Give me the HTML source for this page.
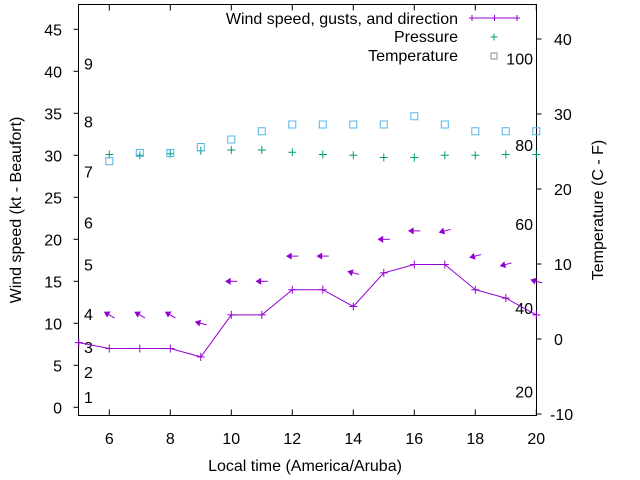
<!DOCTYPE html>
<html><head><meta charset="utf-8"><style>
body{margin:0;background:#fff}
svg{display:block;font-family:"Liberation Sans",sans-serif;font-size:16px}
</style></head><body>
<svg id="chart" width="640" height="480" viewBox="0 0 640 480" xmlns="http://www.w3.org/2000/svg">
<g id="grid"></g>
<g id="marks"></g>
</svg>
<script>
const hours = [5,6,7,8,9,10,11,12,13,14,15,16,17,18,19,20];
const windSpeed = [7.7,7,7,7,6,11,11,14,14,12,16,17,17,14,13,11];
const arrowHours = [6,7,8,9,10,11,12,13,14,15,16,17,18,19,20];
const gustSpeed = [11,11,11,10,15,15,18,18,16,20,21,21,18,17,15];
const arrowAngle = [150,150,150,165,180,180,180,180,165,180,180,195,195,195,165];
const tempHours = [6,7,8,9,10,11,12,13,14,15,16,17,18,19,20];
const temperature = [23.7,24.8,24.8,25.6,26.6,27.7,28.6,28.6,28.6,28.6,29.7,28.6,27.7,27.7,27.7];
const pressureHours = [6,7,8,9,10,11,12,13,14,15,16,17,18,19,20];
const pressure = [24.6,24.5,24.7,25.1,25.2,25.2,24.9,24.6,24.5,24.2,24.2,24.5,24.5,24.6,24.6];
const xTicks = [6,8,10,12,14,16,18,20];
const yTicks = [0,5,10,15,20,25,30,35,40,45];
const y2Ticks = [-10,0,10,20,30,40];
const beaufortLabels = [["1",1.2],["2",4.2],["3",7.2],["4",11.1],["5",17],["6",22],["7",28.1],["8",34],["9",40.9]];
const rightLabels = [["100",41.5],["80",31.2],["60",21.8],["40",11.8],["20",1.9]];

const L=78.5,R=536.5,T=4.5,B=415.5;
const X=v=>78.8+(v-5)*30.5;
const Y=v=>407.3-v*8.4;
const Y2=v=>339-v*7.5;
const NS='http://www.w3.org/2000/svg';
const grid=document.getElementById('grid'), marks=document.getElementById('marks');
function mk(tag,attrs,parent,text){const e=document.createElementNS(NS,tag);for(const k in attrs)e.setAttribute(k,attrs[k]);if(text!==undefined)e.textContent=text;parent.appendChild(e);return e;}

let e=mk('rect',{x:L,y:T,width:R-L,height:B-T,fill:'none',stroke:'#000','stroke-width':1},grid);


xTicks.forEach(t=>{
  const x=X(t);
  mk('line',{x1:x,y1:B,x2:x,y2:B-6,stroke:'#000'},grid);
  mk('line',{x1:x,y1:T,x2:x,y2:T+6,stroke:'#000'},grid);
  const l=mk('text',{x:x,y:444,'text-anchor':'middle'},grid,String(t));
  
  
});
yTicks.forEach(t=>{
  const y=Y(t);
  mk('line',{x1:L-5,y1:y,x2:L,y2:y,stroke:'#000'},grid);
  const l=mk('text',{x:62,y:y+6,'text-anchor':'end'},grid,String(t));
  
  
});
y2Ticks.forEach(t=>{
  const y=Y2(t);
  mk('line',{x1:R,y1:y,x2:R+5,y2:y,stroke:'#000'},grid);
  const l=mk('text',{x:t<0?550:554,y:y+6,'text-anchor':'start'},grid,String(t));
  
  
});
beaufortLabels.forEach(([s,v])=>{
  const l=mk('text',{x:84,y:Y(v)+6},grid,s);
  
  
});
rightLabels.forEach(([s,v])=>{
  const l=mk('text',{x:533,y:Y(v)+6,'text-anchor':'end'},grid,s);
  
  
});
e=mk('text',{x:305,y:471,'text-anchor':'middle'},grid,'Local time (America/Aruba)');


e=mk('text',{x:0,y:0,'text-anchor':'middle',transform:'translate(21,210) rotate(-90)'},grid,'Wind speed (kt - Beaufort)');


e=mk('text',{x:0,y:0,'text-anchor':'middle',transform:'translate(603,210) rotate(-90)'},grid,'Temperature (C - F)');



const PUR='#9400d3',GRN='#009e73',BLU='#56b4e9',GRY='#888';
function plus(x,y,c,s,p){mk('path',{d:`M${x-s} ${y}H${x+s}M${x} ${y-s}V${y+s}`,stroke:c,'stroke-width':1,fill:'none'},p);}
e=mk('polyline',{points:hours.map((h,i)=>X(h)+','+Y(windSpeed[i])).join(' '),fill:'none',stroke:PUR,'stroke-width':1},marks);


hours.forEach((h,i)=>plus(X(h),Y(windSpeed[i]),PUR,4,marks));
arrowHours.forEach((h,i)=>{
  const cx=X(h),cy=Y(gustSpeed[i]),a=arrowAngle[i]*Math.PI/180;
  const dx=Math.cos(a),dy=-Math.sin(a);
  const hx=cx+dx*5.5,hy=cy+dy*5.5,tx=cx-dx*6,ty=cy-dy*6;
  const g=mk('g',{},marks);
  
  
  mk('line',{x1:tx,y1:ty,x2:hx,y2:hy,stroke:PUR,'stroke-width':1},g);
  const px=-dy,py=dx,bx=hx-dx*4.5,by=hy-dy*4.5;
  mk('polygon',{points:`${hx},${hy} ${bx+px*2.8},${by+py*2.8} ${bx-px*2.8},${by-py*2.8}`,fill:PUR,stroke:PUR,'stroke-width':0.8},g);
});
pressureHours.forEach((h,i)=>{
  const g=mk('g',{},marks);
  
  
  plus(X(h),Y2(pressure[i]),GRN,4,g);
});
tempHours.forEach((h,i)=>{
  const r=mk('rect',{x:X(h)-3.5,y:Y2(temperature[i])-3.5,width:7,height:7,fill:'none',stroke:BLU,'stroke-width':1},marks);
  
  
});
const lg=mk('g',{},marks);


e=mk('text',{x:458,y:24,'text-anchor':'end'},lg,'Wind speed, gusts, and direction');


mk('line',{x1:472,y1:18,x2:517,y2:18,stroke:PUR},lg);
plus(472,18,PUR,3,lg);plus(494.5,18,PUR,3,lg);plus(517,18,PUR,3,lg);
e=mk('text',{x:458,y:42,'text-anchor':'end'},lg,'Pressure');


plus(494,37,GRN,3.5,lg);
e=mk('text',{x:458,y:61,'text-anchor':'end'},lg,'Temperature');


mk('rect',{x:491,y:53,width:6,height:6,fill:'none',stroke:GRY},lg);
</script>
</body></html>
